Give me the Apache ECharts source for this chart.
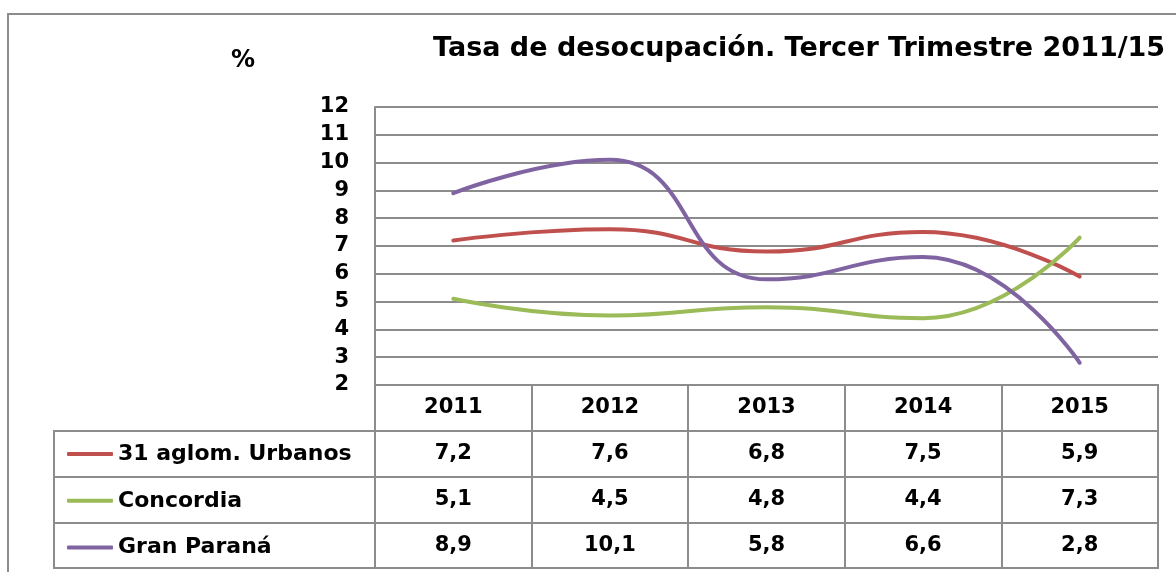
<!DOCTYPE html>
<html>
<head>
<meta charset="utf-8">
<title>Tasa de desocupación</title>
<script src="https://cdn.jsdelivr.net/npm/echarts@6/dist/echarts.min.js"></script>
<style>
  html, body { margin: 0; padding: 0; background: #fff; }
  #main { width: 1176px; height: 572px; }
</style>
</head>
<body>
<div id="main"></div>
<script>
  // datos del gráfico
  const years = ['2011', '2012', '2013', '2014', '2015'];
  const seriesNames = ['31 aglom. Urbanos', 'Concordia', 'Gran Paraná'];
  const urbanos = [7.2, 7.6, 6.8, 7.5, 5.9];
  const concordia = [5.1, 4.5, 4.8, 4.4, 7.3];
  const granParana = [8.9, 10.1, 5.8, 6.6, 2.8];
  const colors = ['#C0504D', '#9BBB59', '#8064A2'];

  const allValues = [urbanos, concordia, granParana];
  const rows = ['hdr'].concat(seriesNames);
  const font = 'DejaVu Sans';
  const gridColor = '#8c8c8c';

  const fmt = (v) => String(v).replace('.', ',');

  // celdas de la tabla: encabezado + valores
  const cells = years.map((y, i) => ({ value: [i, 0], text: y }));
  allValues.forEach((arr, r) => {
    arr.forEach((v, i) => {
      cells.push({ value: [i, r + 1], text: fmt(v) });
    });
  });

  const lineSeries = seriesNames.map((name, i) => ({
    name: name,
    type: 'line',
    xAxisIndex: 0,
    yAxisIndex: 0,
    data: allValues[i],
    smooth: 0.5,
    symbol: 'none',
    color: colors[i],
    lineStyle: { width: 4, color: colors[i], cap: 'round' },
    z: 5
  }));

  const chart = echarts.init(document.getElementById('main'));
  chart.setOption({
    animation: false,
    title: [
      {
        text: 'Tasa de desocupación. Tercer Trimestre 2011/15',
        left: 428,
        top: 30,
        textStyle: { fontFamily: font, fontWeight: 'bold', fontSize: 27, color: '#000' }
      },
      {
        text: '%',
        left: 226,
        top: 44,
        textStyle: { fontFamily: font, fontWeight: 'bold', fontSize: 24, color: '#000' }
      }
    ],
    legend: {
      data: seriesNames,
      orient: 'vertical',
      left: 62,
      top: 438,
      itemWidth: 46,
      itemHeight: 4,
      itemGap: 24.8,
      icon: 'roundRect',
      selectedMode: false,
      textStyle: { fontFamily: font, fontWeight: 'bold', fontSize: 22, color: '#000', lineHeight: 21 }
    },
    graphic: [
      {
        type: 'rect',
        shape: { x: 8, y: 14, width: 1300, height: 700 },
        style: { fill: 'none', stroke: '#8c8c8c', lineWidth: 2 },
        silent: true
      }
    ],
    grid: [
      { left: 375, right: 18, top: 107, bottom: 187 },
      { left: 375, right: 18, top: 385, bottom: 4, show: true, borderColor: gridColor, borderWidth: 2 },
      { left: 54, right: 801, top: 431, bottom: 4, show: true, borderColor: gridColor, borderWidth: 2 }
    ],
    xAxis: [
      {
        gridIndex: 0,
        type: 'category',
        data: years,
        boundaryGap: true,
        axisLine: { show: true, lineStyle: { color: gridColor, width: 2 } },
        axisTick: { show: false },
        axisLabel: { show: false }
      },
      {
        gridIndex: 1,
        type: 'category',
        data: years,
        boundaryGap: true,
        axisLine: { show: false },
        axisTick: { show: false },
        axisLabel: { show: false },
        splitLine: { show: true, lineStyle: { color: gridColor, width: 2 } }
      },
      {
        gridIndex: 2,
        type: 'category',
        data: ['x'],
        axisLine: { show: false },
        axisTick: { show: false },
        axisLabel: { show: false }
      }
    ],
    yAxis: [
      {
        gridIndex: 0,
        type: 'value',
        min: 2,
        max: 12,
        interval: 1,
        axisLine: { show: true, lineStyle: { color: gridColor, width: 2 } },
        axisTick: { show: false },
        axisLabel: { margin: 26, fontFamily: font, fontWeight: 'bold', fontSize: 21, color: '#000' },
        splitLine: { lineStyle: { color: gridColor, width: 2 } }
      },
      {
        gridIndex: 1,
        type: 'category',
        data: rows,
        inverse: true,
        axisLine: { show: false },
        axisTick: { show: false },
        axisLabel: { show: false },
        splitLine: { show: true, lineStyle: { color: gridColor, width: 2 } }
      },
      {
        gridIndex: 2,
        type: 'category',
        data: seriesNames,
        inverse: true,
        axisLine: { show: false },
        axisTick: { show: false },
        axisLabel: { show: false },
        splitLine: { show: true, lineStyle: { color: gridColor, width: 2 } }
      }
    ],
    series: lineSeries.concat([
      {
        // textos de la tabla, ubicados por las escalas de la grilla 2
        type: 'custom',
        xAxisIndex: 1,
        yAxisIndex: 1,
        silent: true,
        data: cells,
        renderItem: (params, api) => {
          const pt = api.coord([api.value(0), api.value(1)]);
          return {
            type: 'text',
            x: pt[0],
            y: pt[1],
            style: {
              text: cells[params.dataIndex].text,
              fill: '#000',
              font: 'bold 21px "DejaVu Sans"',
              align: 'center',
              verticalAlign: 'middle'
            }
          };
        }
      }
    ])
  });
</script>
</body>
</html>
